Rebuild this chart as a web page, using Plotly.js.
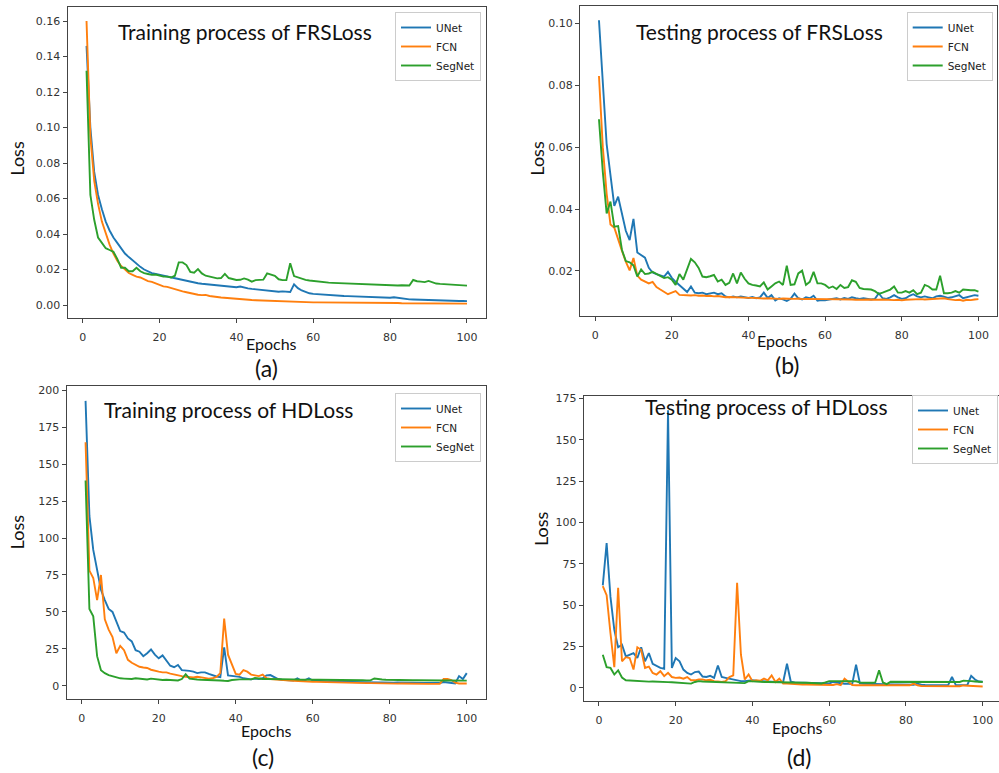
<!DOCTYPE html>
<html>
<head>
<meta charset="utf-8">
<script src="https://cdn.plot.ly/plotly-3.0.1.min.js"></script>
<style>
html,body{margin:0;padding:0;background:#fff;overflow:hidden;}
#chart{width:999px;height:773px;}
</style>
</head>
<body>
<div id="chart"></div>
<script>
// ---------- DATA ----------
const seriesNames = ["UNet", "FCN", "SegNet"];
const panelTitles = ["Training process of FRSLoss", "Testing process of FRSLoss", "Training process of HDLoss", "Testing process of HDLoss"];
const panelCaptions = ["(a)", "(b)", "(c)", "(d)"];
const xTickVals = [0, 20, 40, 60, 80, 100];
const yTicksA = [0, 0.02, 0.04, 0.06, 0.08, 0.10, 0.12, 0.14, 0.16];
const yTicksB = [0.02, 0.04, 0.06, 0.08, 0.10];
const yTicksC = [0, 25, 50, 75, 100, 125, 150, 175, 200];
const yTicksD = [0, 25, 50, 75, 100, 125, 150, 175];

const epochs = [];
for (let i = 1; i <= 100; i++) epochs.push(i);

// (a) Training FRSLoss
const unetA = [0.146,0.100,0.075,0.062,0.054,0.047,0.042,0.038,0.035,0.032,
0.029,0.027,0.025,0.023,0.0215,0.020,0.019,0.018,0.0175,0.017,
0.0165,0.016,0.0155,0.015,0.0145,0.014,0.0135,0.013,0.0127,0.0123,
0.012,0.0118,0.0115,0.0112,0.011,0.0107,0.0105,0.0103,0.0101,0.0100,
0.0104,0.0097,0.0094,0.0091,0.0089,0.0086,0.0083,0.0080,0.0079,0.0077,
0.0075,0.0077,0.0074,0.0073,0.0117,0.0095,0.0082,0.0072,0.0066,0.0063,
0.0061,0.0059,0.0057,0.0055,0.0054,0.0053,0.0052,0.0051,0.0050,0.0049,
0.0048,0.0047,0.0046,0.0045,0.0043,0.0042,0.0041,0.0040,0.0039,0.0041,
0.0044,0.0040,0.0036,0.0034,0.0032,0.0031,0.0030,0.0029,0.0028,0.0027,
0.0027,0.0026,0.0026,0.0025,0.0025,0.0024,0.0024,0.0023,0.0023,0.0022];
const fcnA = [0.160,0.095,0.070,0.057,0.047,0.040,0.034,0.029,0.025,0.022,
0.020,0.018,0.017,0.016,0.0155,0.0145,0.0135,0.013,0.0122,0.0113,
0.0105,0.0102,0.0095,0.0088,0.0083,0.0077,0.0072,0.0066,0.0063,0.0058,
0.0056,0.0057,0.0051,0.0046,0.0045,0.0042,0.0040,0.0037,0.0034,0.0032,
0.0031,0.0030,0.0029,0.0028,0.0027,0.0026,0.0025,0.0023,0.0022,0.0021,
0.0020,0.0019,0.0019,0.0018,0.0018,0.0017,0.0017,0.0016,0.0016,0.0015,
0.0015,0.0015,0.0014,0.0014,0.0014,0.0014,0.0013,0.0013,0.0013,0.0013,
0.0013,0.0012,0.0012,0.0012,0.0012,0.0012,0.0011,0.0011,0.0011,0.0011,
0.0011,0.0011,0.0010,0.0010,0.0010,0.0010,0.0010,0.0010,0.0010,0.0010,
0.0009,0.0009,0.0009,0.0009,0.0009,0.0009,0.0008,0.0008,0.0008,0.0008];
const segA = [0.132,0.062,0.048,0.038,0.035,0.032,0.031,0.030,0.026,0.021,
0.021,0.019,0.019,0.021,0.019,0.018,0.0175,0.017,0.0172,0.0165,
0.016,0.016,0.0155,0.0165,0.0240,0.0240,0.0225,0.0187,0.0182,0.0202,
0.0178,0.0165,0.0160,0.0155,0.0150,0.0152,0.0175,0.0152,0.0145,0.0141,
0.0142,0.0150,0.0143,0.0132,0.0140,0.0140,0.0143,0.0178,0.0170,0.0165,
0.0145,0.0140,0.0140,0.0235,0.0163,0.0155,0.0148,0.0142,0.0138,0.0135,
0.0132,0.0130,0.0128,0.0126,0.0125,0.0124,0.0123,0.0121,0.0120,0.0121,
0.0120,0.0118,0.0116,0.0116,0.0115,0.0114,0.0115,0.0113,0.0112,0.0113,
0.0111,0.0110,0.0111,0.0109,0.0110,0.0141,0.0134,0.0132,0.0129,0.0136,
0.0127,0.0121,0.0119,0.0117,0.0115,0.0117,0.0114,0.0112,0.0110,0.0109];

// (b) Testing FRSLoss
const unetB = [0.101,0.080,0.061,0.051,0.041,0.044,0.039,0.033,0.030,0.0368,
0.026,0.0252,0.0243,0.021,0.0195,0.019,0.0187,0.0182,0.0197,0.0178,
0.0165,0.0155,0.0143,0.0132,0.0150,0.0130,0.0128,0.0130,0.0125,0.0128,
0.0130,0.0125,0.0128,0.0118,0.0115,0.0118,0.0115,0.0118,0.0115,0.0113,
0.0116,0.0112,0.0115,0.0130,0.0113,0.0122,0.0105,0.0112,0.0108,0.0103,
0.0110,0.0127,0.0112,0.0108,0.0115,0.0112,0.0120,0.0104,0.0106,0.0105,
0.0108,0.0110,0.0112,0.0108,0.0113,0.0110,0.0115,0.0112,0.0110,0.0112,
0.0110,0.0108,0.0110,0.0128,0.0112,0.0110,0.0115,0.0122,0.0115,0.0110,
0.0112,0.0120,0.0125,0.0118,0.0115,0.0118,0.0115,0.0112,0.0118,0.0120,
0.0117,0.0113,0.0115,0.0118,0.0122,0.0112,0.0115,0.0120,0.0122,0.0120];
const fcnB = [0.083,0.060,0.045,0.035,0.034,0.030,0.0265,0.023,0.0202,0.0242,
0.0185,0.0172,0.0165,0.0160,0.0165,0.0148,0.0140,0.0133,0.0125,0.0130,
0.0135,0.0123,0.0122,0.0123,0.0121,0.0122,0.0120,0.0121,0.0119,0.0120,
0.0118,0.0119,0.0116,0.0115,0.0116,0.0115,0.0114,0.0115,0.0114,0.0113,
0.0113,0.0112,0.0113,0.0111,0.0112,0.0111,0.0112,0.0110,0.0111,0.0110,
0.0111,0.0110,0.0111,0.0109,0.0110,0.0110,0.0109,0.0110,0.0109,0.0108,
0.0109,0.0108,0.0109,0.0108,0.0108,0.0109,0.0108,0.0107,0.0106,0.0107,
0.0108,0.0107,0.0108,0.0107,0.0108,0.0107,0.0108,0.0106,0.0107,0.0105,
0.0107,0.0108,0.0107,0.0108,0.0109,0.0108,0.0109,0.0110,0.0109,0.0110,
0.0112,0.0109,0.0107,0.0106,0.0107,0.0104,0.0107,0.0106,0.0108,0.0109];
const segB = [0.069,0.052,0.0386,0.0424,0.0343,0.0345,0.0268,0.0232,0.0228,0.0218,
0.0182,0.0205,0.0190,0.0192,0.0197,0.0190,0.0183,0.0177,0.0180,0.0172,
0.0155,0.0190,0.0172,0.0205,0.0239,0.0228,0.0210,0.0182,0.0180,0.0183,
0.0187,0.0166,0.0172,0.0155,0.0162,0.0192,0.0160,0.0195,0.0175,0.0160,
0.0155,0.0153,0.0150,0.0163,0.0140,0.0150,0.0160,0.0166,0.0155,0.0217,
0.0155,0.0157,0.0192,0.0201,0.0155,0.0165,0.0197,0.0160,0.0160,0.0155,
0.0145,0.0150,0.0142,0.0155,0.0145,0.0148,0.0170,0.0165,0.0145,0.0142,
0.0142,0.0140,0.0135,0.0126,0.0130,0.0135,0.0140,0.0150,0.0130,0.0130,
0.0135,0.0130,0.0138,0.0125,0.0130,0.0155,0.0150,0.0140,0.0140,0.0185,
0.0128,0.0128,0.0130,0.0135,0.0130,0.0140,0.0138,0.0138,0.0138,0.0133];

// (c) Training HDLoss
const unetC = [193,115,92,78,65,58,52,50,44,37,
36,32,30,24,23,20,22,24.5,21,18.5,
20.5,17,13.5,12.5,14,10.5,10.5,10,9.5,8.5,
9,9,8,7,6.2,5.8,26,7,6.8,6.2,
6,5,4.5,4.3,4.8,4.5,5,7,7.2,6,
4.5,4,3.8,3.8,3.5,5,3.5,3.8,5,3.5,
3.2,3,3,2.8,3,2.8,2.7,2.6,2.5,2.5,
2.4,2.5,2.3,2.2,2.3,2.2,2.1,2.2,2.0,2.1,
2.0,2.1,2.0,1.9,2.0,1.9,1.8,1.9,1.8,1.8,
1.8,1.7,1.8,2.5,2.0,1.5,1.5,6.5,4.5,8.5];
const fcnC = [165,78,73,58,75,45,38,33,22,27,
24,17.5,15.5,14,12.8,12.3,12,10.8,10,9.5,
9,9,8.2,7.5,6.8,6.5,6,5.8,5.5,6,
5.5,5,4.8,5,6,8.5,45.5,21,14,8,
7.5,10.5,9.5,7.5,7,6.5,7.5,5,4.5,4.2,
4,3.8,3.6,3.4,3.3,3.1,3,2.9,2.8,2.7,
2.6,2.5,2.5,2.4,2.6,2.3,2.2,2.1,2.0,2.0,
1.9,1.8,1.8,1.7,1.7,1.6,1.6,1.5,1.5,1.5,
1.5,1.4,1.5,1.4,1.4,1.3,1.3,1.3,1.3,1.2,
1.2,1.2,1.3,4.5,4.5,3.8,2,1.5,1.5,1.5];
const segC = [139,52,47,20,10.5,8.5,7.2,6.3,5.5,5,
4.8,4.5,4.5,5,4.7,4.3,4.2,4.8,4.3,3.8,
3.8,4,3.8,3.5,3.5,4.5,7.8,4.8,4.3,4.2,
4.0,4.0,3.8,3.8,3.6,3.5,3.3,3.2,3.8,4.2,
4.3,4.3,4.2,4.3,5.2,4.6,4.5,4.5,4.4,4.4,
4.4,4.4,4.3,4.3,4.3,4.2,4.2,4.2,4.1,4.1,
4.1,4.0,4.0,4.0,3.9,3.9,3.9,3.8,3.8,3.8,
3.8,3.7,3.7,3.6,3.6,4.9,4.4,4.2,4.0,3.9,
3.9,3.8,3.8,3.8,3.7,3.7,3.7,3.6,3.6,3.6,
3.6,3.6,3.5,3.5,3.5,3.5,3.5,3.4,3.4,3.4];

// (d) Testing HDLoss
const unetD = [62,87.5,55,35,24.5,26,19,20,21,18,
24.5,16,21,14.5,13,12,11.5,168,12,18,
16,11,9,8,9.5,9.8,6.8,6.5,7.2,6,
13.5,6.5,6,5.5,5,4.3,4,4,4.2,4.6,
4.2,4,4,3.8,3.6,3.5,3.5,3.5,14.5,3.6,
3.2,3.1,3.0,3.0,2.9,2.8,2.8,2.7,2.7,2.6,
3.5,3.2,2.5,2.4,2.4,2.3,14,2.6,2.4,2.3,
2.3,2.2,2.2,2.1,2.1,2.0,2.0,2.0,1.9,1.9,
1.9,1.8,2.5,1.8,1.7,1.7,1.7,1.6,1.6,1.6,
1.6,6.5,1.6,1.6,1.6,1.7,7.2,5,3.8,3.6];
const fcnD = [61.5,56,33,12.5,60.5,16,18.5,18,11,24.5,
23,12,12.8,9,8,10,7,9,6.5,6,
6.2,5.5,6.5,4.5,4.5,5,5,4.5,4.8,4,
3.8,3.5,4,6.5,7.5,63.5,20,5,8,4,
4.5,4.2,5.5,4.5,7.5,3.5,5.5,2.5,2.5,2.3,
2.2,2.1,2.0,2.0,1.9,1.9,1.8,1.8,1.8,1.7,
1.7,2.2,1.6,5.5,3.5,1.6,1.5,1.5,1.4,1.4,
1.4,1.3,1.3,1.3,1.2,1.2,1.2,1.2,1.1,1.1,
1.5,2.5,1.5,1.1,1.1,1.0,1.0,1.0,1.0,1.0,
1.0,1.0,0.9,0.9,1.4,1.2,1.0,0.9,0.8,0.8];
const segD = [20,12.5,12,8,10.5,6.2,4.5,4.3,4.2,4,
3.8,3.8,3.7,3.8,3.6,3.5,3.5,3.4,3.3,3.2,
3,2.8,2.7,2.5,3.5,4,3.8,3.7,3.6,3.6,
3.5,3.5,3.4,3.4,3.3,3.3,3.2,2.8,4,3.8,
3.7,3.6,3.5,3.5,3.4,3.4,3.3,3.3,3.2,3.2,
3.1,3.1,3.0,3.0,2.9,2.7,2.5,2.6,3.2,4,
4,4,4,4.1,4,4,3.9,3.2,3,2.8,
3,3.2,10.5,3.2,2.2,3.6,3.6,3.6,3.6,3.6,
3.5,3.5,3.5,3.5,3.5,3.5,3.5,3.5,3.4,3.4,
3.4,3.4,3.4,3.5,4.3,4.3,4.0,3.8,3.6,3.5];

// ---------- STYLE / LAYOUT ----------
const W = 999, H = 773;
const colors = ["#1f77b4", "#ff7f0e", "#2ca02c"];
const fx = p => p / W;
const fy = p => 1 - p / H;

const panels = [
  {data: [unetA, fcnA, segA], xs: "x",  ys: "y",  leg: "legend"},
  {data: [unetB, fcnB, segB], xs: "x2", ys: "y2", leg: "legend2"},
  {data: [unetC, fcnC, segC], xs: "x3", ys: "y3", leg: "legend3"},
  {data: [unetD, fcnD, segD], xs: "x4", ys: "y4", leg: "legend4"}
];

const traces = [];
panels.forEach(p => {
  p.data.forEach((vals, k) => {
    traces.push({
      type: "scatter", mode: "lines",
      x: epochs, y: vals, name: seriesNames[k],
      xaxis: p.xs, yaxis: p.ys, legend: p.leg,
      line: {color: colors[k], width: 1.9},
      hoverinfo: "skip"
    });
  });
});

const tickFont = {family: "DejaVu Sans", size: 11, color: "#333"};
function axis(extra) {
  return Object.assign({
    showline: true, linecolor: "#444", linewidth: 1, mirror: true,
    ticks: "outside", ticklen: 4, tickwidth: 1, tickcolor: "#444",
    tickfont: tickFont, showgrid: false, zeroline: false, fixedrange: true
  }, extra);
}
function xaxisStyle(extra) {
  return axis(Object.assign({ticklabelstandoff: 5}, extra));
}

const legendStyle = (x, y) => ({
  x: x, y: y, xref: "paper", yref: "paper", xanchor: "left", yanchor: "top",
  bgcolor: "rgba(255,255,255,0.85)", bordercolor: "#cccccc", borderwidth: 1,
  font: {family: "DejaVu Sans", size: 10.5, color: "#222"}
});

const annFont = (s) => ({family: "Lato", size: s, color: "#111"});
const ann = (text, px, py, size, angle) => ({
  text: text, x: fx(px), y: fy(py), xref: "paper", yref: "paper",
  xanchor: "center", yanchor: "middle", showarrow: false,
  font: annFont(size), textangle: angle || 0
});

const titlePos = [[244.5, 32], [759.5, 32], [228.3, 409], [766.7, 406]];
const epochPos = [[271, 344], [782, 340], [266.3, 730.7], [797.3, 727.3]];
const lossPos  = [[16.7, 158], [536.7, 158], [16.7, 531.7], [541.7, 528.3]];
const capPos   = [[266.3, 368.3], [787.5, 365], [262.7, 756.7], [799, 756.7]];

const annotations = [];
for (let i = 0; i < 4; i++) {
  annotations.push(ann(panelTitles[i], titlePos[i][0], titlePos[i][1], 21));
  annotations.push(ann("Epochs", epochPos[i][0], epochPos[i][1], 16));
  annotations.push(ann("Loss", lossPos[i][0], lossPos[i][1], 18, -90));
  annotations.push(ann(panelCaptions[i], capPos[i][0], capPos[i][1], 23));
}

const layout = {
  width: W, height: H,
  margin: {l: 0, r: 0, t: 0, b: 0},
  paper_bgcolor: "#fff", plot_bgcolor: "#fff",
  showlegend: true,
  xaxis:  xaxisStyle({domain: [fx(67.5), fx(486)], range: [-3.95, 104.95], anchor: "y", tickvals: xTickVals}),
  yaxis:  axis({domain: [fy(317.8), fy(6.8)], range: [-0.0072, 0.168], anchor: "x", tickvals: yTicksA, tickformat: ".2f"}),
  xaxis2: xaxisStyle({domain: [fx(580), fx(997.4)], range: [-3.95, 104.95], anchor: "y2", tickvals: xTickVals}),
  yaxis2: axis({domain: [fy(316), fy(6)], range: [0.00546, 0.1056], anchor: "x2", tickvals: yTicksB, tickformat: ".2f"}),
  xaxis3: xaxisStyle({domain: [fx(66.5), fx(485.8)], range: [-3.95, 104.95], anchor: "y3", tickvals: xTickVals}),
  yaxis3: axis({domain: [fy(699.1), fy(386.4)], range: [-9.1, 202.8], anchor: "x3", tickvals: yTicksC}),
  xaxis4: xaxisStyle({domain: [fx(583.8), 1], range: [-3.95, 104.25], anchor: "y4", tickvals: xTickVals}),
  yaxis4: axis({domain: [fy(700.8), fy(396.3)], range: [-7.9, 176.4], anchor: "x4", tickvals: yTicksD, mirror: false}),
  legend:  legendStyle(fx(395), fy(12)),
  legend2: legendStyle(fx(906.7), fy(12)),
  legend3: legendStyle(fx(395), fy(393)),
  legend4: legendStyle(fx(912), fy(395)),
  annotations: annotations
};

Plotly.newPlot("chart", traces, layout, {displayModeBar: false, staticPlot: true});
</script>
</body>
</html>
